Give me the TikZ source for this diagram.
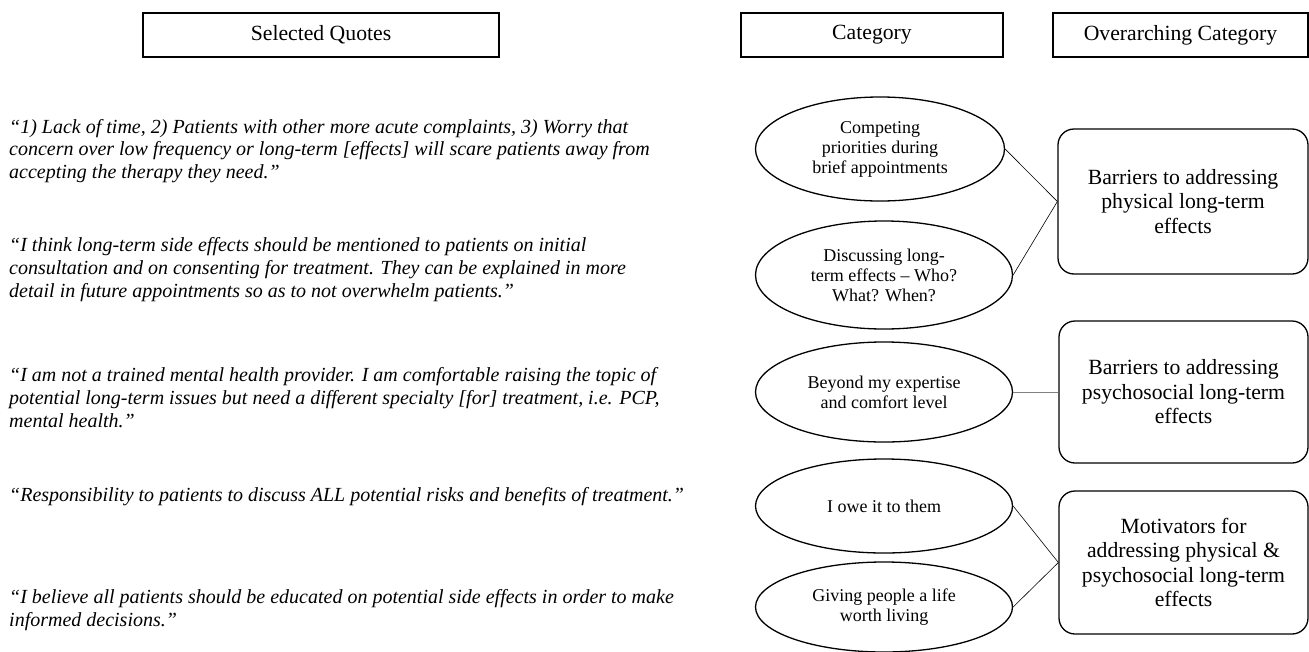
\documentclass[tikz,border=0pt]{standalone}
\usepackage{fontspec}
\setmainfont{Liberation Serif}
\usetikzlibrary{shapes.geometric}
\begin{document}
\begin{tikzpicture}[x=1pt,y=-1pt,
  header/.style={draw,line width=1.8pt,inner sep=0pt,font=\fontsize{21.7}{25}\selectfont},
  quote/.style={anchor=west,align=left,inner sep=0pt,font=\fontsize{20}{22.8}\selectfont\itshape},
  cat/.style={draw,ellipse,line width=1.3pt,inner sep=0pt,align=center,font=\fontsize{18}{20}\selectfont},
  over/.style={draw,rounded corners=16pt,line width=1.3pt,inner sep=0pt,align=center,font=\fontsize{21.7}{24.5}\selectfont},
  link/.style={line width=0.6pt}]
\useasboundingbox (0,0) rectangle (1309,651);
% headers
\node[header,minimum width=356pt,minimum height=44pt] (hq) at (321,35) {Selected Quotes};
\node[header,minimum width=262pt,minimum height=44pt] (hc) at (872,35) {Category};
\node[header,minimum width=255pt,minimum height=44pt] (ho) at (1180.5,35) {Overarching Category};
% quotes
\node[quote] (q1) at (9,151) {``1) Lack of time, 2) Patients with other more acute complaints, 3) Worry that\\concern over low frequency or long-term [effects] will scare patients away from\\accepting the therapy they need.''};
\node[quote] (q2) at (9,269.5) {``I think long-term side effects should be mentioned to patients on initial\\consultation and on consenting for treatment. They can be explained in more\\detail in future appointments so as to not overwhelm patients.''};
\node[quote] (q3) at (9,397.5) {``I am not a trained mental health provider. I am comfortable raising the topic of\\potential long-term issues but need a different specialty [for] treatment, i.e. PCP,\\mental health.''};
\node[quote] (q4) at (9,497) {``Responsibility to patients to discuss ALL potential risks and benefits of treatment.''};
\node[quote] (q5) at (9,610) {``I believe all patients should be educated on potential side effects in order to make\\informed decisions.''};
% categories
\node[cat,minimum width=249pt,minimum height=104pt] (c1) at (880,149) {Competing\\priorities during\\brief appointments};
\node[cat,minimum width=257pt,minimum height=108pt] (c2) at (884,275) {Discussing long-\\term effects -- Who?\\What? When?};
\node[cat,minimum width=257pt,minimum height=100pt] (c3) at (884,392) {Beyond my expertise\\and comfort level};
\node[cat,minimum width=257pt,minimum height=94pt] (c4) at (884,506) {I owe it to them};
\node[cat,minimum width=257pt,minimum height=90pt] (c5) at (884,607) {Giving people a life\\worth living};
% overarching
\node[over,minimum width=250pt,minimum height=145pt] (o1) at (1183,201.5) {Barriers to addressing\\physical long-term\\effects};
\node[over,minimum width=249pt,minimum height=142pt] (o2) at (1183.5,392) {Barriers to addressing\\psychosocial long-term\\effects};
\node[over,minimum width=249pt,minimum height=143pt] (o3) at (1183.5,562.5) {Motivators for\\addressing physical \&\\psychosocial long-term\\effects};
% connectors
\draw[link] (c1.east) -- (o1.west);
\draw[link] (c2.east) -- (o1.west);
\draw[link,gray,line width=1pt] (c3.east) -- (o2.west);
\draw[link] (c4.east) -- (o3.west);
\draw[link] (c5.east) -- (o3.west);
\end{tikzpicture}
\end{document}
